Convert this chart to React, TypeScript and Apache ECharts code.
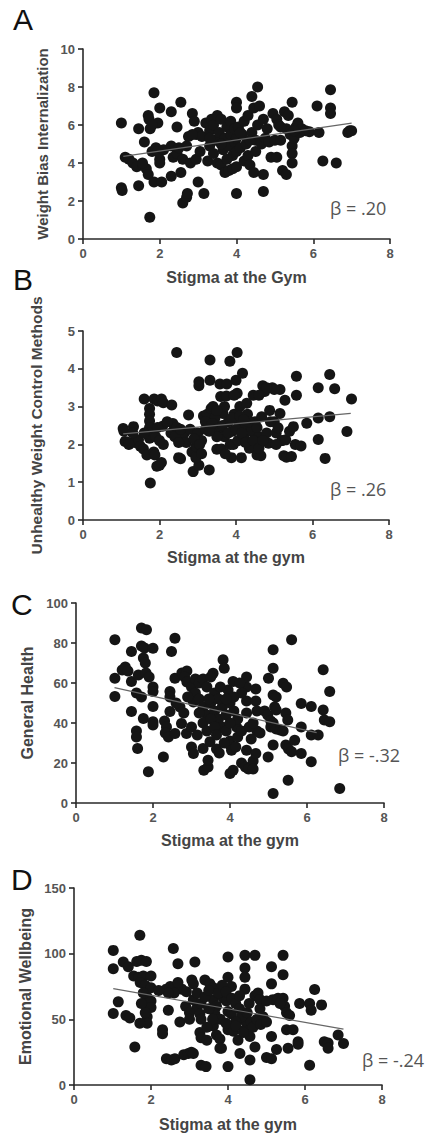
import React, { useEffect, useRef } from "react";
import * as echarts from "echarts";

// ---------- data ----------
const xTicks = [0, 2, 4, 6, 8];

const panelLetters = ["A", "B", "C", "D"];
const yNames = [
  "Weight Bias Internalization",
  "Unhealthy Weight Control Methods",
  "General Health",
  "Emotional Wellbeing",
];
const xNames = ["Stigma at the Gym", "Stigma at the gym", "Stigma at the gym", "Stigma at the gym"];
const betaLabels = ["β = .20", "β = .26", "β = -.32", "β = -.24"];
const yMax = [10, 5, 100, 150];
const yInterval = [2, 1, 20, 50];

const pointsA: number[][] = [
  [1.0, 6.1], [1.0, 2.7], [1.02, 2.55], [1.1, 4.3], [1.2, 4.2], [1.3, 4.0], [1.4, 3.8], [1.45, 5.8], [1.45, 2.8],
  [1.55, 3.9], [1.6, 5.1], [1.65, 3.7], [1.7, 3.4], [1.7, 6.5], [1.72, 6.3], [1.75, 5.8], [1.74, 1.15], [1.8, 4.6],
  [1.85, 7.7], [1.85, 3.0], [1.9, 4.8], [1.95, 4.6], [1.95, 6.1], [2.0, 6.9], [2.0, 4.2], [2.0, 4.0], [2.05, 3.0],
  [2.1, 4.7], [1.8, 6.0], [1.55, 4.0],
  [2.3, 6.7], [2.3, 4.9], [2.35, 4.3], [2.3, 3.3], [2.45, 4.5], [2.45, 5.9], [2.5, 4.8], [2.55, 7.2], [2.55, 3.5],
  [2.6, 1.9], [2.6, 4.2], [2.7, 2.2], [2.72, 2.4], [2.7, 4.9], [2.75, 5.4], [2.8, 4.0], [2.85, 6.6], [2.9, 6.2],
  [2.95, 5.5], [2.95, 4.2], [3.0, 3.0], [3.0, 5.6], [3.05, 4.6], [3.1, 5.4], [2.85, 5.5],
  [3.15, 2.4], [3.2, 6.1], [3.25, 4.1], [3.3, 5.7], [3.3, 4.9], [3.35, 6.3], [3.4, 6.0], [3.4, 4.5], [3.45, 5.2],
  [3.5, 6.5], [3.5, 4.0], [3.55, 5.6], [3.6, 3.9], [3.6, 6.3], [3.65, 4.7], [3.7, 5.3], [3.7, 3.5], [3.75, 5.9],
  [3.8, 4.9], [3.8, 3.6], [3.85, 6.2], [3.85, 5.5], [3.9, 4.4], [3.9, 3.7], [3.95, 5.1], [4.0, 7.2], [4.0, 6.9],
  [4.0, 5.3], [4.0, 4.6], [4.0, 2.4], [4.0, 3.8], [3.3, 5.3], [3.6, 5.0], [3.95, 5.8], [3.75, 4.2],
  [4.05, 5.9], [4.1, 4.8], [4.15, 5.5], [4.2, 4.1], [4.2, 6.2], [4.25, 5.0], [4.3, 6.5], [4.3, 4.4], [4.35, 3.9],
  [4.4, 5.6], [4.4, 7.5], [4.45, 6.9], [4.45, 3.5], [4.5, 5.2], [4.5, 4.6], [4.55, 8.0], [4.55, 6.0], [4.6, 7.0],
  [4.65, 5.0], [4.7, 6.3], [4.7, 3.4], [4.7, 2.5], [4.75, 5.3], [4.8, 5.8], [4.85, 5.1], [4.9, 4.3], [4.95, 6.6],
  [5.0, 5.2], [4.35, 5.2], [4.1, 5.6],
  [5.05, 6.3], [5.05, 4.3], [5.1, 6.0], [5.15, 5.2], [5.2, 3.6], [5.25, 6.7], [5.3, 3.4], [5.3, 5.8], [5.35, 6.5],
  [5.4, 5.5], [5.45, 7.2], [5.45, 4.9], [5.45, 4.5], [5.45, 4.0], [5.5, 5.3], [5.55, 5.9], [5.6, 6.1], [5.65, 5.6],
  [5.7, 5.8], [5.8, 5.7], [5.9, 5.65], [5.15, 5.9], [5.5, 5.7],
  [6.1, 7.0], [6.15, 5.6], [6.25, 4.1], [6.45, 7.85], [6.45, 6.9], [6.45, 6.6], [6.6, 4.0], [6.9, 5.6], [6.95, 5.7],
  [7.0, 5.7],
];

const pointsB: number[][] = [
  [1.05, 2.42], [1.07, 2.35], [1.1, 2.08], [1.2, 2.05], [1.32, 2.47], [1.36, 2.05], [1.45, 2.12], [1.5, 1.95],
  [1.58, 1.88], [1.6, 3.2], [1.67, 1.72], [1.74, 2.95], [1.74, 2.8], [1.74, 2.62], [1.74, 2.45], [1.74, 2.3],
  [1.74, 2.16], [1.76, 0.98], [1.85, 1.8], [1.86, 3.2], [1.88, 1.72], [1.93, 1.42], [1.95, 3.15], [2.0, 1.45],
  [2.05, 1.52], [2.05, 3.2], [2.08, 2.48], [2.1, 2.0], [2.1, 3.1], [2.32, 3.04], [2.35, 2.55], [2.45, 4.43],
  [2.45, 2.45], [2.5, 1.65], [2.55, 1.62], [2.6, 2.15], [2.65, 2.3], [2.7, 2.05], [2.76, 2.78], [2.8, 2.4],
  [2.85, 1.8], [2.88, 1.28], [2.95, 1.95], [3.0, 2.3], [3.03, 3.66], [3.03, 3.55], [3.03, 1.45], [3.1, 2.1],
  [3.15, 2.75], [3.2, 2.4], [3.25, 2.8], [3.3, 1.32], [3.32, 4.23], [3.32, 3.7], [3.35, 2.95], [3.4, 3.0],
  [3.45, 2.5], [3.5, 1.87], [3.55, 2.3], [3.58, 3.6], [3.6, 3.27], [3.6, 2.47], [3.62, 1.88], [3.66, 2.82],
  [3.7, 2.2], [3.75, 3.28], [3.76, 3.6], [3.8, 2.6], [3.84, 4.2], [3.85, 2.0], [3.88, 1.65], [3.9, 2.35],
  [3.93, 2.0], [3.95, 2.8], [4.0, 3.7], [4.03, 4.43], [4.03, 3.35], [4.05, 2.1], [4.08, 2.55], [4.1, 3.0],
  [4.14, 1.65], [4.17, 3.88], [4.2, 2.2], [4.25, 2.5], [4.28, 3.09], [4.3, 2.8], [4.35, 1.9], [4.4, 2.35],
  [4.45, 3.3], [4.5, 2.6], [4.55, 1.72], [4.6, 2.2], [4.65, 1.7], [4.67, 2.73], [4.7, 3.55], [4.75, 3.4],
  [4.8, 2.3], [4.85, 2.03], [4.88, 2.9], [4.95, 3.5], [5.0, 2.6], [5.05, 2.3], [5.1, 2.44], [5.15, 3.45],
  [5.15, 2.82], [5.2, 2.1], [5.25, 1.7], [5.28, 3.17], [5.3, 2.12], [5.32, 1.66], [5.4, 2.35], [5.45, 1.68],
  [5.5, 2.47], [5.55, 2.0], [5.58, 3.8], [5.58, 3.3], [5.7, 1.96], [5.85, 2.56], [6.15, 3.5], [6.15, 2.7],
  [6.15, 2.13], [6.33, 1.63], [6.45, 3.85], [6.45, 2.73], [6.58, 3.47], [6.9, 2.34], [7.02, 3.2],
  [3.45, 2.7], [3.5, 2.2], [3.65, 2.5], [3.8, 2.3], [3.9, 2.7], [4.0, 2.4], [4.15, 2.3], [4.25, 2.05],
  [4.35, 2.6], [4.45, 2.1], [4.55, 2.45], [4.6, 1.9], [2.2, 2.6], [2.3, 2.3], [2.4, 2.2], [2.5, 2.05],
  [2.55, 2.4], [2.9, 2.15], [2.95, 1.65], [3.05, 2.0], [3.1, 1.75], [3.2, 2.6], [3.3, 2.35], [4.7, 2.1],
  [4.9, 2.6], [5.0, 3.45], [5.05, 2.0], [4.8, 3.5], [4.6, 3.3], [4.1, 2.75], [3.95, 3.3], [3.7, 3.0],
  [3.5, 2.9], [1.9, 2.2], [1.95, 2.45], [2.0, 2.1], [1.6, 2.3], [1.3, 2.3], [1.2, 2.0], [3.38, 2.55],
  [3.72, 1.75], [4.2, 2.65],
];

const pointsC: number[][] = [
  [1.01, 81.6], [1.01, 62.4], [1.01, 53.2], [1.2, 66.5], [1.28, 68], [1.35, 66], [1.44, 75.8], [1.44, 60.7],
  [1.44, 45.7], [1.57, 36], [1.57, 33], [1.6, 27.3], [1.62, 64], [1.57, 55], [1.7, 87.5], [1.83, 86.6],
  [1.7, 78.5], [1.78, 77.5], [1.75, 72.5], [1.8, 70], [1.82, 65], [1.9, 63], [1.7, 53], [1.75, 42.3],
  [1.88, 15.6], [2.0, 77.4], [2.0, 58], [2.0, 55.7], [2.0, 48.2], [2.0, 40.6], [2.0, 39], [2.27, 23],
  [2.3, 41], [2.35, 38], [2.32, 35], [2.4, 33], [2.48, 75.8], [2.57, 82.4], [2.44, 55.7], [2.44, 53],
  [2.44, 45.7], [2.57, 34.8], [2.7, 48], [2.74, 39.8], [2.57, 62.4], [2.75, 65], [2.88, 66], [2.82, 63],
  [2.88, 60.5], [3.0, 58], [3.1, 55], [3.05, 50.5], [2.87, 34.8], [3.0, 28], [3.05, 24.7], [3.3, 27.3],
  [3.32, 16.4], [3.43, 18], [3.43, 21.4], [3.48, 30.6], [3.65, 27], [3.72, 25], [3.82, 71.6], [3.85, 67.4],
  [3.56, 64.9], [3.95, 56.5], [4.0, 14.7], [4.08, 16.4], [4.0, 31], [4.0, 29], [4.04, 26.4], [4.08, 60.7],
  [4.17, 38], [4.43, 58], [4.43, 63], [4.43, 51], [4.43, 45], [4.43, 26.4], [4.3, 20], [4.4, 18], [4.48, 17],
  [4.6, 21], [4.6, 17], [4.67, 24.7], [4.67, 57], [4.67, 51], [4.7, 46], [4.7, 36], [4.78, 35], [4.9, 46],
  [4.98, 44], [5.06, 41], [5.06, 38], [4.99, 23], [5.12, 29], [5.12, 76.6], [5.12, 67.4], [5.0, 62.4],
  [5.12, 54], [5.2, 53], [5.16, 48], [5.2, 46.5], [5.12, 40], [5.2, 37], [5.12, 4.7], [5.3, 36.5], [5.38, 36],
  [5.38, 59.9], [5.47, 58], [5.6, 81.6], [5.45, 45], [5.5, 41.5], [5.45, 29], [5.52, 27], [5.6, 25.6],
  [5.51, 11.4], [5.68, 31.4], [5.85, 38], [5.85, 49.8], [5.85, 24.7], [6.11, 48.2], [6.11, 34], [6.29, 34],
  [6.11, 20.6], [6.42, 66.6], [6.42, 46.5], [6.45, 41.5], [6.59, 40.6], [6.59, 55.7], [6.85, 7.2],
  [3.1, 62], [3.2, 60], [3.3, 62], [3.4, 58], [3.5, 63], [3.2, 52], [3.3, 48], [3.4, 44], [3.5, 50], [3.6, 46],
  [3.7, 42], [3.8, 48], [3.9, 44], [3.6, 55], [3.7, 52], [3.8, 38], [3.9, 36], [4.0, 50], [4.1, 46], [4.2, 42],
  [4.3, 55], [4.1, 53], [3.3, 40], [3.4, 36], [3.5, 42], [3.6, 38], [3.75, 58], [3.9, 52], [4.0, 40], [4.2, 33],
  [4.3, 36], [4.5, 38], [4.55, 32], [3.2, 45], [2.9, 53], [2.8, 45], [2.6, 50], [3.0, 38], [3.15, 34],
  [4.25, 60], [4.6, 40], [3.45, 52], [3.65, 34], [3.85, 30], [4.15, 28],
];

const pointsD: number[][] = [
  [1.02, 102.5], [1.02, 88.6], [1.02, 54.4], [1.15, 63.3], [1.28, 93.7], [1.35, 53], [1.45, 51], [1.41, 90],
  [1.58, 29], [1.55, 83], [1.68, 82], [1.8, 83], [1.63, 94], [1.75, 95], [1.88, 94], [1.71, 114], [1.72, 78],
  [1.85, 76], [1.9, 67], [1.9, 59], [1.9, 52], [1.9, 47], [2.0, 83], [2.0, 74], [2.0, 64], [2.0, 59], [1.71, 47],
  [2.3, 42], [2.3, 39], [2.4, 73], [2.5, 75], [2.58, 74], [2.58, 104], [2.45, 57], [2.4, 20], [2.53, 19],
  [2.62, 20], [2.7, 92.4], [2.75, 48], [2.8, 73], [2.92, 71], [2.85, 23], [2.97, 24], [3.05, 25], [3.1, 24],
  [3.14, 93.7], [3.18, 58], [3.27, 54], [3.06, 80], [3.1, 77], [3.27, 40], [3.3, 15], [3.43, 14], [3.3, 36],
  [3.45, 34], [3.4, 80], [3.53, 77], [3.62, 74], [3.62, 65], [3.7, 60], [3.66, 54], [3.62, 45], [3.7, 38],
  [3.79, 35], [3.83, 28], [3.79, 28], [3.88, 66], [3.96, 64], [4.0, 97.5], [4.0, 82], [4.09, 75], [4.0, 56],
  [4.09, 54], [4.0, 42], [4.14, 41], [4.0, 14], [4.26, 34], [4.31, 24], [4.44, 42], [4.44, 89], [4.44, 82],
  [4.44, 98.7], [4.44, 73], [4.44, 49], [4.57, 4], [4.57, 19], [4.57, 37], [4.7, 98.7], [4.7, 68], [4.78, 70],
  [4.83, 65], [4.7, 29], [4.83, 58], [4.91, 52], [5.0, 21], [5.13, 20], [5.13, 90], [5.13, 77], [5.13, 37],
  [5.17, 65], [5.3, 66], [5.26, 27], [5.43, 98.7], [5.43, 84], [5.43, 66], [5.47, 60], [5.52, 55], [5.6, 53],
  [5.52, 42], [5.56, 28], [5.69, 42], [5.82, 33], [5.82, 31], [5.86, 62], [6.12, 62], [6.16, 57], [6.12, 15],
  [6.25, 72.7], [6.43, 61], [6.5, 33], [6.6, 32], [6.6, 28], [6.86, 38], [7.0, 31.6],
  [2.9, 60], [3.0, 55], [3.1, 65], [3.2, 70], [3.3, 62], [3.4, 67], [3.5, 72], [3.3, 50], [3.5, 58], [3.75, 70],
  [3.85, 76], [3.95, 71], [4.1, 66], [4.2, 62], [4.3, 58], [4.35, 52], [4.2, 48], [4.5, 55], [4.6, 48],
  [4.65, 44], [4.75, 50], [4.85, 46], [4.55, 62], [4.3, 68], [3.8, 50], [3.95, 47], [4.2, 45], [2.6, 70],
  [2.7, 78], [2.45, 70], [2.2, 72], [1.8, 70], [1.75, 62], [1.85, 55], [3.0, 50], [3.6, 50], [5.0, 64],
  [5.35, 62], [5.0, 48], [4.4, 40], [3.45, 44],
];

const trendA = [[1.05, 4.35], [7.0, 6.1]];
const trendB = [[1.05, 2.28], [7.0, 2.82]];
const trendC = [[1.0, 57.7], [6.25, 35.2]];
const trendD = [[1.02, 73.4], [7.0, 42.5]];

const allPoints = [pointsA, pointsB, pointsC, pointsD];
const allTrends = [trendA, trendB, trendC, trendD];

// ---------- layout ----------
const grids = [
  { left: 83, width: 307, top: 49, height: 190 },
  { left: 83, width: 306, top: 331, height: 189 },
  { left: 76, width: 308, top: 603, height: 200 },
  { left: 74, width: 308, top: 888, height: 197 },
];
const yNameSizes = [15, 15.5, 16, 16];
const yNameGaps = [32, 39, 41, 33];
const xNameGaps = [30, 29, 29, 31];
const letterPos = [
  { x: 13, y: 4 },
  { x: 13, y: 264 },
  { x: 11, y: 589 },
  { x: 11, y: 864 },
];
const betaPos = [
  { x: 330, y: 210 },
  { x: 330, y: 491 },
  { x: 338, y: 757 },
  { x: 362, y: 1062 },
];

const FONT = "'Liberation Sans', Arial, sans-serif";

export default function App() {
  const ref = useRef<HTMLDivElement>(null);

  useEffect(() => {
    if (!ref.current) return;
    const chart = echarts.init(ref.current, undefined, { renderer: "svg" });

    const axisLine = { show: true, onZero: false, lineStyle: { color: "#2a2a2a", width: 1.6 } };
    const axisTick = { show: true, length: 5, inside: false, lineStyle: { color: "#2a2a2a", width: 1.6 } };
    const axisLabel = { fontFamily: FONT, fontWeight: "bold" as const, fontSize: 13, color: "#555" };
    const nameTextStyle = { fontFamily: FONT, fontWeight: "bold" as const, color: "#444" };

    const option: any = {
      animation: false,
      backgroundColor: "#fff",
      grid: grids.map((g) => ({ ...g, containLabel: false })),
      xAxis: grids.map((_, i) => ({
        type: "value",
        gridIndex: i,
        min: xTicks[0],
        max: xTicks[xTicks.length - 1],
        interval: 2,
        name: xNames[i],
        nameLocation: "middle",
        nameGap: xNameGaps[i],
        nameTextStyle: { ...nameTextStyle, fontSize: 16 },
        axisLine,
        axisTick,
        axisLabel: { ...axisLabel, margin: 8 },
        splitLine: { show: false },
      })),
      yAxis: grids.map((_, i) => ({
        type: "value",
        gridIndex: i,
        min: 0,
        max: yMax[i],
        interval: yInterval[i],
        name: yNames[i],
        nameLocation: "middle",
        nameGap: yNameGaps[i],
        nameRotate: 90,
        nameTextStyle: { ...nameTextStyle, fontSize: yNameSizes[i] },
        axisLine,
        axisTick,
        axisLabel: { ...axisLabel, margin: 8 },
        splitLine: { show: false },
      })),
      series: [
        ...allPoints.map((pts, i) => ({
          type: "scatter",
          xAxisIndex: i,
          yAxisIndex: i,
          data: pts,
          symbol: "circle",
          symbolSize: 11,
          itemStyle: { color: "#151515", opacity: 1 },
          z: 2,
        })),
        ...allTrends.map((tr, i) => ({
          type: "line",
          xAxisIndex: i,
          yAxisIndex: i,
          data: tr,
          symbol: "none",
          lineStyle: { color: "#666", width: 1.2 },
          z: 3,
          silent: true,
        })),
      ],
      graphic: [
        ...panelLetters.map((t, i) => ({
          type: "text",
          left: letterPos[i].x,
          top: letterPos[i].y,
          style: { text: t, font: `normal 30px ${FONT}`, fill: "#111" },
        })),
        ...betaLabels.map((t, i) => ({
          type: "text",
          left: betaPos[i].x,
          top: betaPos[i].y - 11,
          style: { text: t, font: `normal 18px 'Open Sans', 'Liberation Sans', sans-serif`, fill: "#555" },
        })),
      ],
    };

    chart.setOption(option);
    return () => chart.dispose();
  }, []);

  return (
    <div
      ref={ref}
      style={{ position: "absolute", left: 0, top: 0, width: 427, height: 1135, background: "#fff" }}
    />
  );
}
